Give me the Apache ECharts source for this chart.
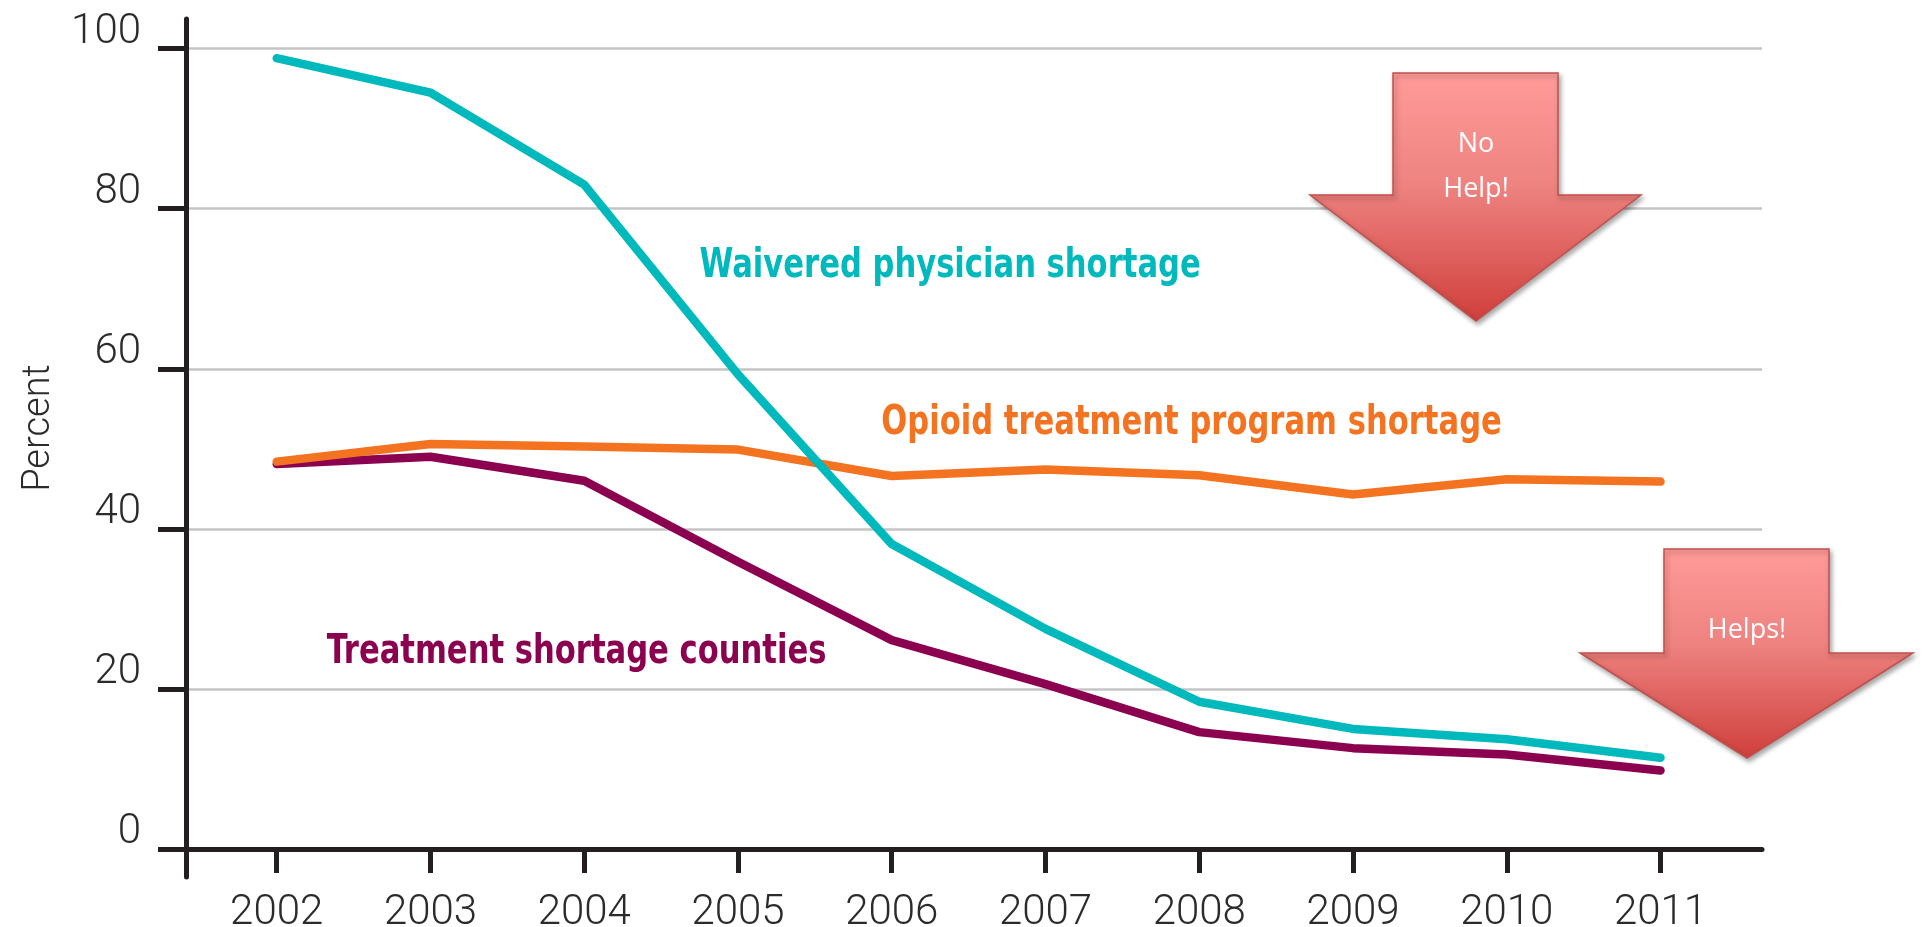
<!DOCTYPE html>
<html>
<head>
<meta charset="utf-8">
<title>Shortage chart</title>
<script src="https://cdn.jsdelivr.net/npm/echarts@6/dist/echarts.min.js"></script>
<style>
  html, body { margin: 0; padding: 0; background: #fff; }
  #chart { width: 1923px; height: 927px; }
</style>
</head>
<body>
<div id="chart"></div>
<script>
// data
var years = [2002, 2003, 2004, 2005, 2006, 2007, 2008, 2009, 2010, 2011];
var yTicks = [0, 20, 40, 60, 80, 100];
var waivered = [98.8, 94.5, 83.0, 59.3, 38.1, 27.5, 18.4, 15.0, 13.7, 11.4];
var opioid = [48.4, 50.6, 50.3, 49.9, 46.6, 47.4, 46.7, 44.3, 46.2, 45.9];
var treatment = [48.1, 49.0, 46.0, 35.9, 26.1, 20.6, 14.6, 12.6, 11.8, 9.8];

// series labels, anchored in data space [year, percent]
var labelNames = ['Treatment shortage counties', 'Opioid treatment program shortage', 'Waivered physician shortage'];
var labelAt = [[2003.95, 24.6], [2007.95, 53.2], [2006.38, 72.8]];

var colors = ['#8b004f', '#f47321', '#00b9bc'];
var axisCol = '#231f20';
var font = 'Roboto';

function pairs(vals) {
  return years.map(function (y, i) { return [y, vals[i]]; });
}

var chart = echarts.init(document.getElementById('chart'));

// block arrows (decoration)
function arrow(shaftL, shaftR, top, headTop, headL, headR, tipX, tipY) {
  return {
    type: 'polygon',
    z: 100,
    shape: {
      points: [[shaftL, top], [shaftR, top], [shaftR, headTop], [headR, headTop],
               [tipX, tipY], [headL, headTop], [shaftL, headTop]]
    },
    style: {
      fill: new echarts.graphic.LinearGradient(0, 0, 0, 1, [
        { offset: 0, color: '#ff9b99' },
        { offset: 0.45, color: '#ee8380' },
        { offset: 1, color: '#cf3f3c' }
      ]),
      stroke: '#c0504d',
      lineWidth: 1.5,
      shadowBlur: 5,
      shadowOffsetX: 2,
      shadowOffsetY: 3,
      shadowColor: 'rgba(0,0,0,0.35)'
    }
  };
}

function line(name, vals, color) {
  return {
    name: name,
    type: 'line',
    data: pairs(vals),
    symbol: 'none',
    lineStyle: { color: color, width: 8.5, cap: 'round', join: 'round' }
  };
}

var option = {
  animation: false,
  grid: { left: 186, right: 161, top: 19, bottom: 50, containLabel: false, outerBoundsMode: 'none' },
  xAxis: {
    type: 'value',
    min: 2001.41,
    max: 2011.66,
    splitLine: { show: false },
    axisLine: { show: true, onZero: true, lineStyle: { color: axisCol, width: 5 } },
    axisTick: { show: true, length: 24, customValues: years, lineStyle: { color: axisCol, width: 5 } },
    axisLabel: {
      customValues: years,
      margin: 15,
      fontFamily: font,
      fontWeight: 300,
      fontSize: 42,
      color: '#2b2b2b',
      formatter: function (v) { return String(v); }
    }
  },
  yAxis: {
    type: 'value',
    min: -3.5,
    max: 103.7,
    name: 'Percent',
    nameLocation: 'middle',
    nameGap: 128,
    nameRotate: 90,
    nameTextStyle: {
      fontFamily: font,
      fontWeight: 300,
      fontSize: 38,
      color: '#2b2b2b',
      padding: [0, 0, 0, 40]
    },
    axisLine: { show: true, lineStyle: { color: axisCol, width: 5 } },
    axisTick: { show: true, length: 28, customValues: yTicks, lineStyle: { color: axisCol, width: 5 } },
    axisLabel: {
      customValues: yTicks,
      margin: 45,
      verticalAlign: 'bottom',
      lineHeight: 32,
      fontFamily: font,
      fontWeight: 300,
      fontSize: 42,
      color: '#2b2b2b'
    },
    splitLine: { show: true, lineStyle: { color: '#c4c4c4', width: 2.5 } }
  },
  series: [
    line(labelNames[0], treatment, colors[0]),
    line(labelNames[1], opioid, colors[1]),
    line(labelNames[2], waivered, colors[2])
  ],
  graphic: [
    arrow(1393, 1558, 73, 195, 1310, 1641, 1476, 321),
    arrow(1664, 1829, 549, 653, 1580, 1913, 1747, 758),
    {
      type: 'text', z: 101, x: 1476, y: 167,
      style: {
        text: 'No\nHelp!', fill: '#fff', align: 'center', verticalAlign: 'middle',
        font: '27px "Open Sans", sans-serif', lineHeight: 45
      }
    },
    {
      type: 'text', z: 101, x: 1747, y: 630,
      style: {
        text: 'Helps!', fill: '#fff', align: 'center', verticalAlign: 'middle',
        font: '27px "Open Sans", sans-serif'
      }
    }
  ]
};

chart.setOption(option);

// condensed bold series labels, converted from data space
var texts = labelNames.map(function (t, i) {
  var p = chart.convertToPixel({ gridIndex: 0 }, labelAt[i]);
  return {
    type: 'text', z: 50, x: p[0], y: p[1], scaleX: 0.83,
    style: {
      text: t, fill: colors[i], align: 'center', verticalAlign: 'middle',
      font: 'bold 41px "DejaVu Sans Condensed", sans-serif'
    }
  };
});
chart.setOption({ graphic: option.graphic.concat(texts) });
</script>
</body>
</html>
